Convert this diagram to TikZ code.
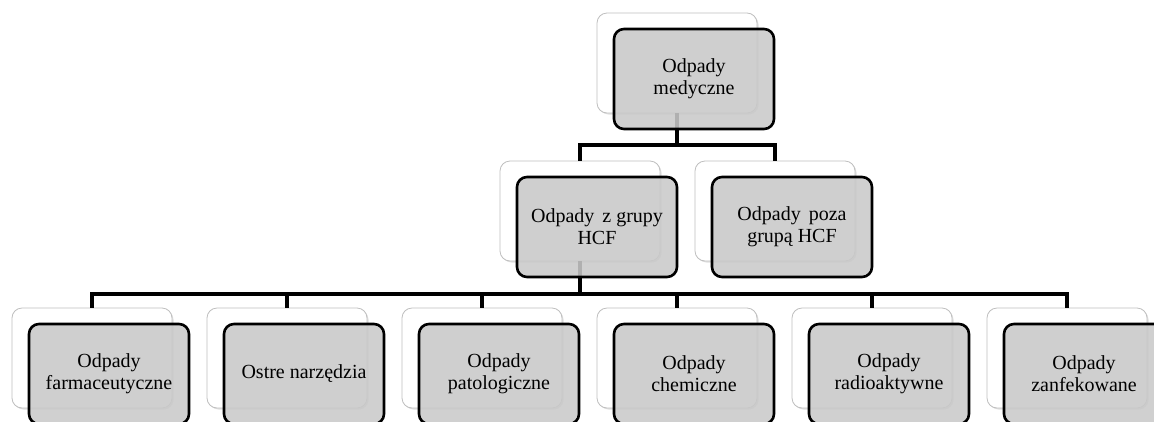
\documentclass[tikz,border=0pt]{standalone}
\usepackage{fontspec}
\setmainfont{Liberation Serif}
\newfontfamily\tnr{Liberation Serif}
\usetikzlibrary{shadows}
\begin{document}
\begin{tikzpicture}[x=1pt,y=-1pt,
  back/.style={draw=black!25, line width=0.8pt, fill=white, rounded corners=10pt,
    minimum width=160pt, minimum height=100pt, inner sep=0pt,
    drop shadow={opacity=0.25, shadow xshift=1.5pt, shadow yshift=-1.5pt}},
  front/.style={draw=black, line width=2.6pt, fill=black!21, fill opacity=0.88,
    text opacity=1, rounded corners=10pt, minimum width=160pt, minimum height=100pt,
    inner sep=0pt, align=center, font={\tnr\fontsize{20pt}{22pt}\selectfont}, text=black},
  conn/.style={draw=black, line width=4pt}]
\clip (0,0) rectangle (1154,421);
% back boxes
\node[back] (t)  at (677,63) {};
\node[back] (m1) at (580,211) {};
\node[back] (m2) at (775,211) {};
\node[back] (b1) at (92,358) {};
\node[back] (b2) at (287,358) {};
\node[back] (b3) at (482,358) {};
\node[back] (b4) at (677,358) {};
\node[back] (b5) at (872,358) {};
\node[back] (b6) at (1067,358) {};
% connectors
\draw[conn] (t.south) -- ++(0,32) -| (m1.north);
\draw[conn] (t.south) -- ++(0,32) -| (m2.north);
\foreach \b in {b1,b2,b3,b4,b5,b6}
  \draw[conn] (m1.south) -- ++(0,33) -| (\b.north);
% front boxes
\node[front] (gt)  at ([shift={(17,16)}]t.center)  {Odpady\\medyczne};
\node[front] (gm1) at ([shift={(17,16)}]m1.center) {Odpady\hspace{0.15em} z grupy\\HCF};
\node[front] (gm2) at ([shift={(17,16)}]m2.center) {Odpady\hspace{0.15em} poza\\grupą HCF};
\node[front] (gb1) at ([shift={(17,16)}]b1.center) {Odpady\\farmaceutyczne};
\node[front] (gb2) at ([shift={(17,16)}]b2.center) {Ostre narzędzia};
\node[front] (gb3) at ([shift={(17,16)}]b3.center) {Odpady\\patologiczne};
\node[front] (gb4) at ([shift={(17,16)}]b4.center) {Odpady\\chemiczne};
\node[front] (gb5) at ([shift={(17,16)}]b5.center) {Odpady\\radioaktywne};
\node[front] (gb6) at ([shift={(17,16)}]b6.center) {Odpady\\zanfekowane};
\end{tikzpicture}
\end{document}
